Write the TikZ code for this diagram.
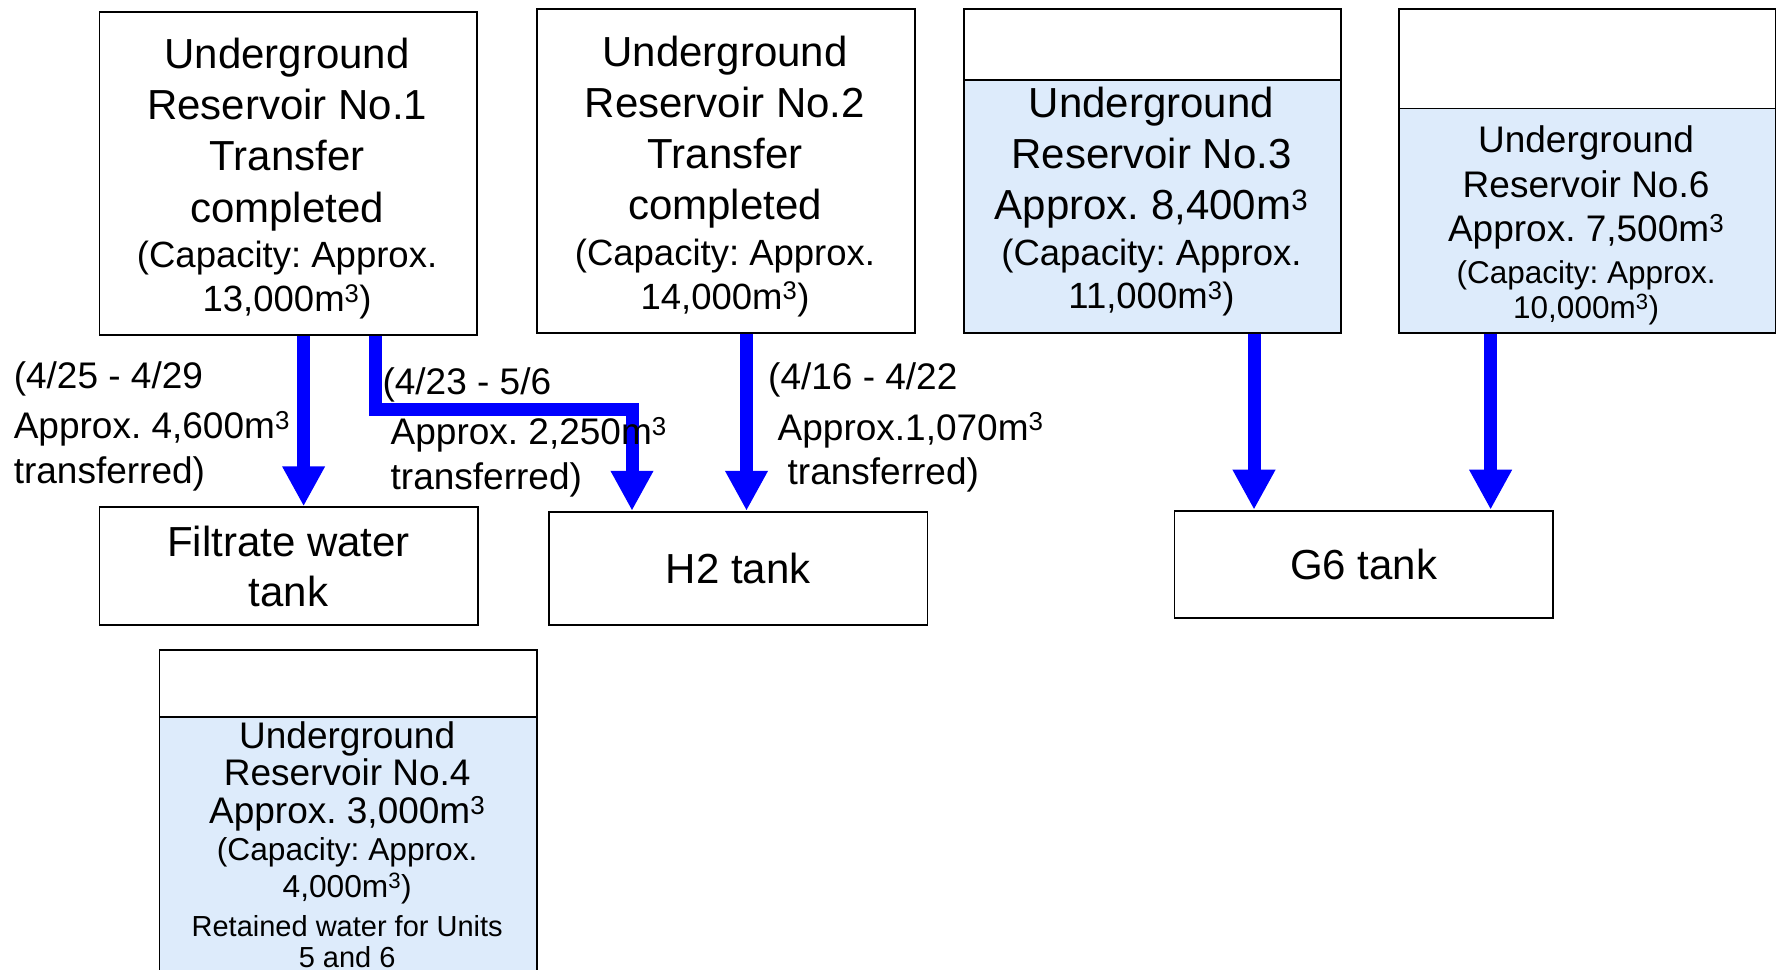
\documentclass[tikz,border=0pt]{standalone}
\usepackage{fontspec}
\setmainfont{Liberation Sans}
\usetikzlibrary{arrows.meta}
\frenchspacing
\definecolor{paleblue}{RGB}{221,235,251}
\definecolor{flowblue}{RGB}{0,0,255}
\newcommand{\szA}{\fontsize{42}{51.3}\selectfont}
\newcommand{\szB}{\fontsize{36.5}{43.5}\selectfont}
\newcommand{\szC}{\fontsize{37}{44.7}\selectfont}
\newcommand{\szD}{\fontsize{31.5}{35}\selectfont}
\newcommand{\szE}{\fontsize{37}{37.4}\selectfont}
\newcommand{\szF}{\fontsize{31.7}{36.3}\selectfont}
\newcommand{\szG}{\fontsize{29}{30.6}\selectfont}
\newcommand{\szH}{\fontsize{42}{49.8}\selectfont}
\newcommand{\szL}{\fontsize{37}{44}\selectfont}
\begin{document}
\begin{tikzpicture}[x=1pt,y=-1pt,
  every node/.append style={execute at begin node=\frenchspacing},
  box/.style={draw=black, line width=1.8pt, inner sep=0pt, anchor=north west, fill=white},
  wetbox/.style={box, fill=paleblue},
  txt/.style={inner sep=0pt, anchor=base, align=flush center, text width=370pt},
  lbl/.style={inner sep=0pt, anchor=base west, font=\szL},
  flow/.style={draw=flowblue, line width=13pt, line join=miter, -{Triangle[width=40pt,length=40pt]}}]
\fill[white] (0,0) rectangle (1776,969);
\clip (0,0) rectangle (1776,969);

% boxes
\node[box, minimum width=377.2pt, minimum height=322.7pt] (r1) at (98.5,11.3) {};
\node[box, minimum width=378.3pt, minimum height=324pt] (r2) at (535.8,7.9) {};
\node[box, minimum width=377.5pt, minimum height=324pt] (r3) at (962.8,7.9) {};
\node[wetbox, minimum width=377.5pt, minimum height=252.6pt] (r3w) at (962.8,79.3) {};
\node[box, minimum width=376.8pt, minimum height=324pt] (r6) at (1397.7,7.9) {};
\node[wetbox, minimum width=376.8pt, minimum height=224.3pt] (r6w) at (1397.7,107.6) {};
\node[box, minimum width=378.4pt, minimum height=117.8pt, align=center, font=\szH] (ft) at (98.5,506.3) {Filtrate water\\tank};
\node[box, minimum width=378.3pt, minimum height=113.3pt, font=\szA] (h2) at (548.2,510.8) {H2 tank};
\node[box, minimum width=378.3pt, minimum height=107.6pt, font=\szA] (g6) at (1173.5,509.7) {G6 tank};
\node[box, minimum width=377.2pt, minimum height=340pt] (r4) at (158.6,649) {};
\node[wetbox, minimum width=377.2pt, minimum height=273pt] (r4w) at (158.6,716) {};

% box texts
\node[txt] (r1t) at (287.1,68.2) {\szA Underground\\Reservoir No.1\\Transfer\\completed\par\vspace{2.1pt}\szB (Capacity: Approx.\\13,000m\textsuperscript{3})\par};
\node[txt] (r2t) at (725,66) {\szA Underground\\Reservoir No.2\\Transfer\\completed\par\vspace{2.1pt}\szB (Capacity: Approx.\\14,000m\textsuperscript{3})\par};
\node[txt] (r3t) at (1151.5,117) {\szA Underground\\Reservoir No.3\\Approx. 8,400m\textsuperscript{3}\par\vspace{2.1pt}\szB (Capacity: Approx.\\11,000m\textsuperscript{3})\par};
\node[txt] (r6t) at (1586.1,152.5) {\szC Underground\\Reservoir No.6\\Approx. 7,500m\textsuperscript{3}\par\vspace{6.2pt}\szD (Capacity: Approx.\\10,000m\textsuperscript{3})\par};
\node[txt] (r4t) at (347.2,748.3) {\szE Underground\\Reservoir No.4\\Approx. 3,000m\textsuperscript{3}\par\vspace{1.4pt}\szF (Capacity: Approx.\\4,000m\textsuperscript{3})\par\vspace{9.2pt}\szG Retained water for Units\\5 and 6\par};

% flows
\coordinate (xa) at (303.6,0);
\coordinate (xb) at (375.3,0);
\coordinate (xb2) at (632,0);
\coordinate (yb) at (0,409);
\coordinate (xc) at (746.5,0);
\coordinate (xd) at (1254,0);
\coordinate (xe) at (1490.6,0);
\draw[flow] (xa |- r1.south) -- (xa |- ft.north);
\draw[flow] (xb |- r1.south) -- (xb |- yb) -- (xb2 |- yb) -- (xb2 |- h2.north);
\draw[flow] (xc |- r2.south) -- (xc |- h2.north);
\draw[flow] (xd |- r3.south) -- (xd |- g6.north);
\draw[flow] (xe |- r6.south) -- (xe |- g6.north);

% labels
\node[lbl] (la1) at (13.6,388.5) {(4/25 - 4/29};
\node[lbl] (la2) at (13.6,438.5) {Approx. 4,600m\textsuperscript{3}};
\node[lbl] (la3) at (13.6,483) {transferred)};
\node[lbl] (lb1) at (382.3,394) {(4/23 - 5/6};
\node[lbl] (lb2) at (390.5,444.6) {Approx. 2,250m\textsuperscript{3}};
\node[lbl] (lb3) at (390.5,489.7) {transferred)};
\node[lbl] (lc1) at (768,389.5) {(4/16 - 4/22};
\node[lbl] (lc2) at (777.5,440) {Approx.1,070m\textsuperscript{3}};
\node[lbl] (lc3) at (787.5,484.5) {transferred)};
\end{tikzpicture}
\end{document}
